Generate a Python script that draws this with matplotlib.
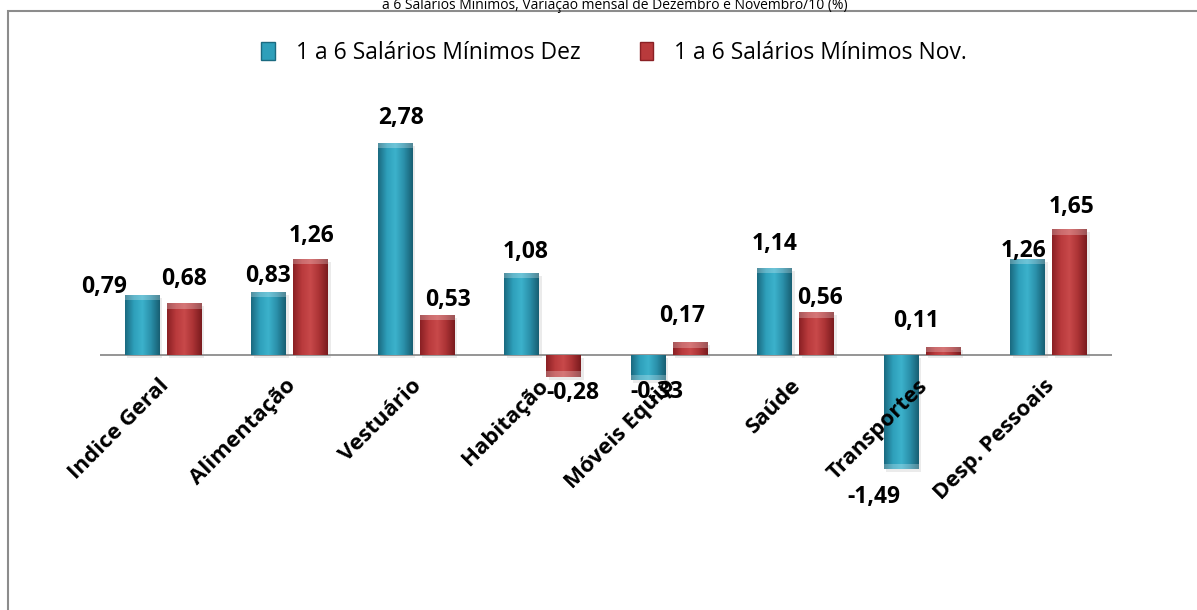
import numpy as np
import matplotlib
matplotlib.use('Agg')
import matplotlib.pyplot as plt
from matplotlib.colors import LinearSegmentedColormap
from matplotlib.patches import Patch, Rectangle

plt.rcParams['font.family'] = ['Open Sans', 'DejaVu Sans']

# dados
categorias = ['Indice Geral', 'Alimentação', 'Vestuário', 'Habitação', 'Móveis Equip',
              'Saúde', 'Transportes', 'Desp. Pessoais']
dez = [0.79, 0.83, 2.78, 1.08, -0.33, 1.14, -1.49, 1.26]
nov = [0.68, 1.26, 0.53, -0.28, 0.17, 0.56, 0.11, 1.65]
serie_dez = '1 a 6 Salários Mínimos Dez'
serie_nov = '1 a 6 Salários Mínimos Nov.'
titulo = 'a 6 Salários Mínimos, Variação mensal de Dezembro e Novembro/10 (%)'

# deslocamento dos rótulos (pixels): dx horizontal, gap = distância da barra
dx_dez = [-38, -1, 6, 4, 9, 0, -27, -4]
gap_dez = [2, 10, 19, 15, 2, 18, 18, 2]
dx_nov = [0, 1, 11, 9, -8, 3, -27, 2]
gap_nov = [18, 17, 9, 6, 20, 8, 20, 16]

W, H = 1197, 610
fig = plt.figure(figsize=(W / 100, H / 100), dpi=100)
ax = fig.add_axes([100 / W, (H - 546) / H, 1012 / W, 458 / H])

cm_dez = LinearSegmentedColormap.from_list('dez', ['#1a6a80', '#2e9fba', '#3cb2cc', '#2a8fa9', '#185f73'])
cm_nov = LinearSegmentedColormap.from_list('nov', ['#8a2024', '#b93a3c', '#c8494a', '#ab3335', '#7a1b1e'])
grad = np.linspace(0, 1, 64).reshape(1, -1)

x = np.arange(len(categorias))
largura = 0.275
desl = 0.166


def barras(pos, vals, cmap, cor):
    rects = ax.bar(pos, vals, largura, color=cor, zorder=2)
    for r, v in zip(rects, vals):
        x0 = r.get_x()
        # sombra
        ax.bar(x0 + largura / 2 + 0.02, v, largura, bottom=-0.04, color='#000000',
               alpha=0.08, zorder=1, linewidth=0)
        im = ax.imshow(grad, extent=[x0, x0 + largura, min(0, v), max(0, v)],
                       aspect='auto', cmap=cmap, zorder=3)
        im.set_clip_path(r)
        # brilho no topo/base
        ax.bar(x0 + largura / 2, 0.07 * np.sign(v), largura,
               bottom=v - 0.07 * np.sign(v), color='white', alpha=0.25, zorder=4, linewidth=0)
    return rects


barras(x - desl, dez, cm_dez, '#2e9fba')
barras(x + desl, nov, cm_nov, '#b93a3c')

ax.axhline(0, color='#8c8c8c', lw=1.3, zorder=1.5)

for i in range(len(categorias)):
    for val, dx, gap, xp in ((dez[i], dx_dez[i], gap_dez[i], x[i] - desl),
                             (nov[i], dx_nov[i], gap_nov[i], x[i] + desl)):
        dy = gap if val >= 0 else -(gap + 16)
        ax.annotate(f'{val:.2f}'.replace('.', ','), xy=(xp, val), xytext=(dx, dy),
                    textcoords='offset pixels', ha='center', va='baseline',
                    fontsize=16.5, fontweight='bold', zorder=6)
    ax.annotate(categorias[i], xy=(x[i], 0), xytext=(-5, -20), textcoords='offset pixels',
                ha='right', va='top', rotation=45, rotation_mode='anchor',
                fontsize=16, fontweight='bold', zorder=6)

ax.set_xlim(-0.5, len(categorias) - 0.5)
ax.set_ylim(-2.5, 3.5)
ax.axis('off')

handles = [Patch(facecolor='#2e9fba', edgecolor='#1a6a80'),
           Patch(facecolor='#b93a3c', edgecolor='#8a2024')]
fig.legend(handles, [serie_dez, serie_nov], loc='center', bbox_to_anchor=(614 / W, 1 - 53 / H),
           ncol=2, frameon=False, fontsize=16.5, handlelength=0.6, handleheight=0.8,
           handletextpad=0.9, columnspacing=2.6)

fig.text(615 / W, 1 - 9 / H, titulo, ha='center', va='baseline', fontsize=10)

fig.patches.append(Rectangle((7.5 / W, -0.1), 1.2, 1.1 - 11 / H, transform=fig.transFigure,
                             fill=False, edgecolor='#8c8c8c', lw=1.5))

fig.savefig('out.png', dpi=100, facecolor='white')
